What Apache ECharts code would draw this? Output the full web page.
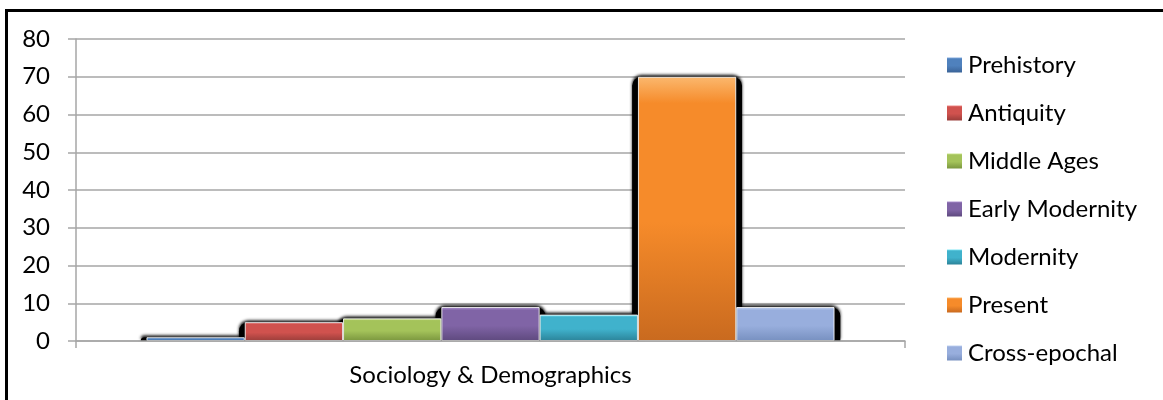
<!DOCTYPE html>
<html>
<head>
<meta charset="utf-8">
<script src="https://cdn.jsdelivr.net/npm/echarts@6/dist/echarts.min.js"></script>
<style>
html,body{margin:0;padding:0;background:#fff;}
#chart{width:1163px;height:400px;}
</style>
</head>
<body>
<div id="chart"></div>
<script>
// ---- data ----
var categories = ['Sociology & Demographics'];
var seriesNames = ['Prehistory', 'Antiquity', 'Middle Ages', 'Early Modernity', 'Modernity', 'Present', 'Cross-epochal'];
var prehistory = [1];
var antiquity = [5];
var middleAges = [6];
var earlyModernity = [9];
var modernity = [7];
var present = [70];
var crossEpochal = [9];
var yTicks = [0, 10, 20, 30, 40, 50, 60, 70, 80];

var seriesValues = [prehistory, antiquity, middleAges, earlyModernity, modernity, present, crossEpochal];

// ---- styles ----
var palette = [
  ['#84ACE0', '#4F81BD', '#3A6397'],
  ['#F08A87', '#D0524E', '#9A3D3A'],
  ['#CDE690', '#A4C35A', '#7A963E'],
  ['#AE92D2', '#8064A6', '#5E497E'],
  ['#7FE6F5', '#40B2CC', '#2B8399'],
  ['#FBB86E', '#F68B2A', '#C96A1F'],
  ['#C3D4F2', '#98AEDD', '#7790C0']
];

function grad(c) {
  return new echarts.graphic.LinearGradient(0, 0, 0, 1, [
    {offset: 0, color: c[0]},
    {offset: 0.1, color: c[1]},
    {offset: 0.55, color: c[1]},
    {offset: 1, color: c[2]}
  ]);
}

var FONT = 'Lato, "Open Sans", sans-serif';
var GRAY = '#a6a6a6';

var series = [];
// dark halo layer drawn behind the bars (same data, hidden axis)
seriesNames.forEach(function (name, i) {
  series.push({
    name: name + ' (shadow)',
    type: 'bar',
    xAxisIndex: 1,
    data: seriesValues[i],
    barGap: '-10.6%',
    barCategoryGap: '15.6%',
    z: 1,
    silent: true,
    itemStyle: {
      color: '#000',
      borderRadius: [9, 9, 0, 0],
      shadowColor: 'rgba(0,0,0,0.9)',
      shadowBlur: 3,
      shadowOffsetY: -2
    },
    emphasis: {disabled: true}
  });
});
seriesNames.forEach(function (name, i) {
  series.push({
    name: name,
    type: 'bar',
    data: seriesValues[i],
    barGap: '0%',
    barCategoryGap: '17%',
    z: 3,
    itemStyle: {
      color: grad(palette[i]),
      borderColor: 'rgba(255,255,255,0.85)',
      borderWidth: 1
    },
    emphasis: {disabled: true}
  });
});

var chart = echarts.init(document.getElementById('chart'), null, {renderer: 'canvas'});
chart.setOption({
  animation: false,
  backgroundColor: '#fff',
  graphic: [{
    type: 'rect',
    shape: {x: 6.5, y: 10.5, width: 1300, height: 600},
    style: {fill: 'none', stroke: '#000', lineWidth: 3},
    silent: true,
    z: 100
  }],
  grid: {left: 76, right: 258, top: 39, bottom: 59, containLabel: false},
  legend: {
    orient: 'vertical',
    left: 947,
    top: 53,
    padding: 0,
    itemWidth: 15,
    itemHeight: 15,
    itemGap: 24,
    icon: 'rect',
    itemStyle: {borderWidth: 0, shadowBlur: 0},
    textStyle: {fontFamily: FONT, fontSize: 24, color: '#000', lineHeight: 24, padding: [0, 0, 0, 1]},
    data: seriesNames
  },
  xAxis: [{
    type: 'category',
    data: categories,
    axisLine: {show: true, lineStyle: {color: GRAY, width: 1.5}},
    axisTick: {show: true, length: 7, lineStyle: {color: GRAY, width: 1.5}},
    axisLabel: {fontFamily: FONT, fontSize: 24, color: '#000', margin: 22},
    z: 5
  }, {
    type: 'category',
    data: categories,
    show: false
  }],
  yAxis: {
    type: 'value',
    min: yTicks[0],
    max: yTicks[yTicks.length - 1],
    interval: 10,
    axisLine: {show: true, lineStyle: {color: GRAY, width: 1.5}},
    axisTick: {show: true, length: 8, lineStyle: {color: GRAY, width: 1.5}},
    splitLine: {show: true, lineStyle: {color: GRAY, width: 1.5}},
    axisLabel: {fontFamily: FONT, fontSize: 24, color: '#000', margin: 26}
  },
  series: series
});
</script>
</body>
</html>
